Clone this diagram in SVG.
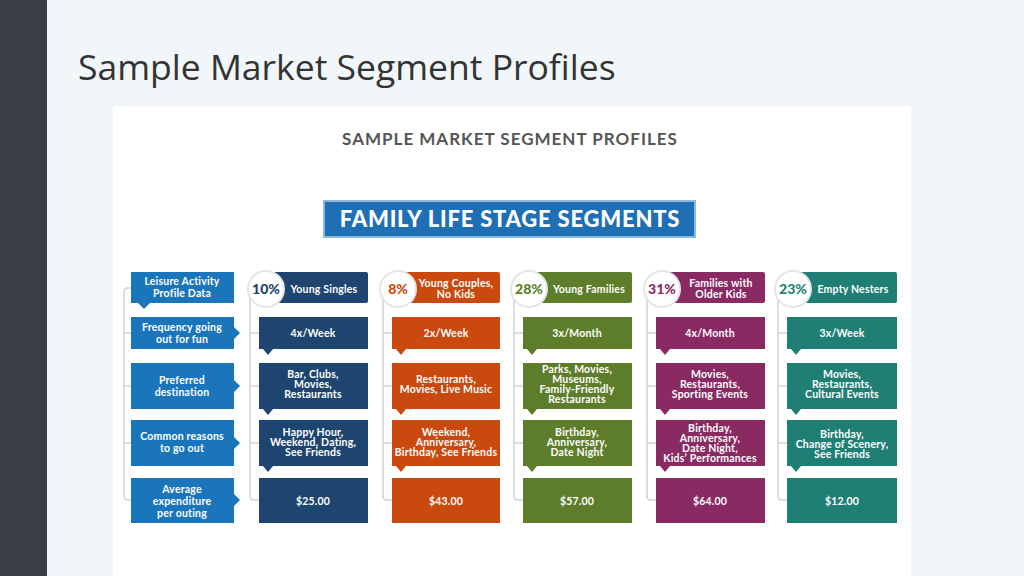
<svg xmlns="http://www.w3.org/2000/svg" width="1024" height="576" viewBox="0 0 1024 576">
<style>
.t{font-family:Lato,"Open Sans",sans-serif;font-weight:bold;fill:#fff;font-size:10.5px;text-anchor:middle;letter-spacing:0.2px}
.br{fill:none;stroke:#d0d4d8;stroke-width:1.5}
.pc{fill:#fff;stroke:#e3e6e9;stroke-width:2}
.p{font-family:Lato,"Open Sans",sans-serif;font-weight:900;font-size:14px;text-anchor:middle}
</style>
<rect width="1024" height="576" fill="#f1f6f9"/>
<rect width="47" height="576" fill="#393e44"/>
<text x="78" y="80" font-family="Open Sans,sans-serif" font-size="35.5" fill="#333">Sample Market Segment Profiles</text>
<rect x="113" y="107" width="798" height="469" fill="#fff"/>
<text x="510" y="145" font-family="Lato,sans-serif" font-weight="bold" font-size="17" letter-spacing="1" fill="#555" text-anchor="middle">SAMPLE MARKET SEGMENT PROFILES</text>
<g id="banner"><rect x="324" y="201" width="371" height="36" fill="#1f6fb5" stroke="#8cb8e0" stroke-width="2"/><text x="510" y="227" font-family="Lato,sans-serif" font-weight="900" font-size="22" letter-spacing="0.8" fill="#fff" text-anchor="middle">FAMILY LIFE STAGE SEGMENTS</text></g>
<g id="connectors">
<path class="br" d="M131 288H128Q124 288 124 292V496Q124 500 128 500H131M124 333H131M124 386H131M124 443H131"/>
<path class="br" d="M256 280Q250 284 250 292V496Q250 500 254 500H259M250 333H259M250 386H259M250 443H259"/>
<path class="br" d="M389 280Q383 284 383 292V496Q383 500 387 500H392M383 333H392M383 386H392M383 443H392"/>
<path class="br" d="M520 280Q514 284 514 292V496Q514 500 518 500H523M514 333H523M514 386H523M514 443H523"/>
<path class="br" d="M653 280Q647 284 647 292V496Q647 500 651 500H656M647 333H656M647 386H656M647 443H656"/>
<path class="br" d="M784 280Q778 284 778 292V496Q778 500 782 500H787M778 333H787M778 386H787M778 443H787"/>
</g>
<g id="labels" fill="#1b75bb">
<g id="l0"><rect x="131" y="272" width="103" height="31"/><path d="M138 303h12l-6 6z"/><text class="t" x="182" y="285">Leisure Activity</text><text class="t" x="182" y="297">Profile Data</text></g>
<g id="l1"><rect x="131" y="317" width="103" height="32"/><path d="M234 327v12l6 -6z"/><text class="t" x="182" y="331">Frequency going</text><text class="t" x="182" y="343">out for fun</text></g>
<g id="l2"><rect x="131" y="363" width="103" height="46"/><path d="M234 380v12l6 -6z"/><text class="t" x="182" y="384">Preferred</text><text class="t" x="182" y="396">destination</text></g>
<g id="l3"><rect x="131" y="420" width="103" height="46"/><path d="M234 437v12l6 -6z"/><text class="t" x="182" y="440">Common reasons</text><text class="t" x="182" y="452">to go out</text></g>
<g id="l4"><rect x="131" y="478" width="103" height="45"/><path d="M234 494v12l6 -6z"/><text class="t" x="182" y="493">Average</text><text class="t" x="182" y="505">expenditure</text><text class="t" x="182" y="517">per outing</text></g>
</g>
<g id="col1" fill="#1e4570">
<rect x="262" y="272" width="106" height="31" rx="2"/><circle class="pc" cx="266" cy="289" r="18"/><text class="p" x="266" y="294" fill="#1e4570">10%</text><text class="t" x="324" y="293">Young Singles</text>
<rect x="259" y="317" width="109" height="32"/><path d="M263 349h10l-5 6z"/><text class="t" x="313" y="337">4x/Week</text>
<rect x="259" y="363" width="109" height="46"/><path d="M263 409h10l-5 6z"/><text class="t" x="313" y="378">Bar, Clubs,</text><text class="t" x="313" y="388">Movies,</text><text class="t" x="313" y="398">Restaurants</text>
<rect x="259" y="420" width="109" height="46"/><path d="M263 466h10l-5 6z"/><text class="t" x="313" y="436">Happy Hour,</text><text class="t" x="313" y="446">Weekend, Dating,</text><text class="t" x="313" y="456">See Friends</text>
<rect x="259" y="478" width="109" height="45"/><text class="t" x="313" y="505">$25.00</text>
</g>
<g id="col2" fill="#c9490f">
<rect x="395" y="272" width="105" height="31" rx="2"/><circle class="pc" cx="398" cy="289" r="18"/><text class="p" x="398" y="294" fill="#c9490f">8%</text><text class="t" x="456" y="287">Young Couples,</text><text class="t" x="456" y="298">No Kids</text>
<rect x="392" y="317" width="108" height="32"/><path d="M396 349h10l-5 6z"/><text class="t" x="446" y="337">2x/Week</text>
<rect x="392" y="363" width="108" height="46"/><path d="M396 409h10l-5 6z"/><text class="t" x="446" y="383">Restaurants,</text><text class="t" x="446" y="393">Movies, Live Music</text>
<rect x="392" y="420" width="108" height="46"/><path d="M396 466h10l-5 6z"/><text class="t" x="446" y="436">Weekend,</text><text class="t" x="446" y="446">Anniversary,</text><text class="t" x="446" y="456">Birthday, See Friends</text>
<rect x="392" y="478" width="108" height="45"/><text class="t" x="446" y="505">$43.00</text>
</g>
<g id="col3" fill="#5d7d2a">
<rect x="526" y="272" width="106" height="31" rx="2"/><circle class="pc" cx="529" cy="289" r="18"/><text class="p" x="529" y="294" fill="#5d7d2a">28%</text><text class="t" x="589" y="293">Young Families</text>
<rect x="523" y="317" width="109" height="32"/><path d="M527 349h10l-5 6z"/><text class="t" x="577" y="337">3x/Month</text>
<rect x="523" y="363" width="109" height="46"/><path d="M527 409h10l-5 6z"/><text class="t" x="577" y="373">Parks, Movies,</text><text class="t" x="577" y="383">Museums,</text><text class="t" x="577" y="393">Family-Friendly</text><text class="t" x="577" y="403">Restaurants</text>
<rect x="523" y="420" width="109" height="46"/><path d="M527 466h10l-5 6z"/><text class="t" x="577" y="436">Birthday,</text><text class="t" x="577" y="446">Anniversary,</text><text class="t" x="577" y="456">Date Night</text>
<rect x="523" y="478" width="109" height="45"/><text class="t" x="577" y="505">$57.00</text>
</g>
<g id="col4" fill="#8a2a63">
<rect x="659" y="272" width="106" height="31" rx="2"/><circle class="pc" cx="662" cy="289" r="18"/><text class="p" x="662" y="294" fill="#8a2a63">31%</text><text class="t" x="721" y="287">Families with</text><text class="t" x="721" y="298">Older Kids</text>
<rect x="656" y="317" width="109" height="32"/><path d="M660 349h10l-5 6z"/><text class="t" x="710" y="337">4x/Month</text>
<rect x="656" y="363" width="109" height="46"/><path d="M660 409h10l-5 6z"/><text class="t" x="710" y="378">Movies,</text><text class="t" x="710" y="388">Restaurants,</text><text class="t" x="710" y="398">Sporting Events</text>
<rect x="656" y="420" width="109" height="46"/><path d="M660 466h10l-5 6z"/><text class="t" x="710" y="432">Birthday,</text><text class="t" x="710" y="442">Anniversary,</text><text class="t" x="710" y="452">Date Night,</text><text class="t" x="710" y="462">Kids’ Performances</text>
<rect x="656" y="478" width="109" height="45"/><text class="t" x="710" y="505">$64.00</text>
</g>
<g id="col5" fill="#1f7f75">
<rect x="790" y="272" width="107" height="31" rx="2"/><circle class="pc" cx="793" cy="289" r="18"/><text class="p" x="793" y="294" fill="#1f7f75">23%</text><text class="t" x="853" y="293">Empty Nesters</text>
<rect x="787" y="317" width="110" height="32"/><path d="M791 349h10l-5 6z"/><text class="t" x="842" y="337">3x/Week</text>
<rect x="787" y="363" width="110" height="46"/><path d="M791 409h10l-5 6z"/><text class="t" x="842" y="378">Movies,</text><text class="t" x="842" y="388">Restaurants,</text><text class="t" x="842" y="398">Cultural Events</text>
<rect x="787" y="420" width="110" height="46"/><path d="M791 466h10l-5 6z"/><text class="t" x="842" y="438">Birthday,</text><text class="t" x="842" y="448">Change of Scenery,</text><text class="t" x="842" y="458">See Friends</text>
<rect x="787" y="478" width="110" height="45"/><text class="t" x="842" y="505">$12.00</text>
</g>
</svg>
